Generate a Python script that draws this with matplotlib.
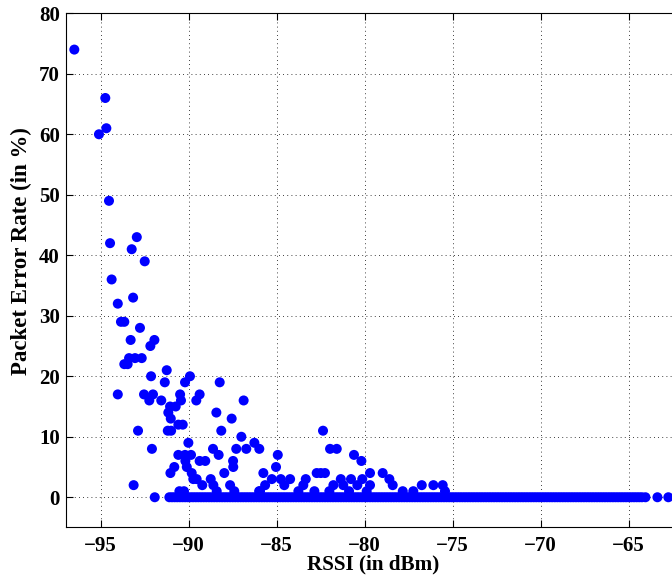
import numpy as np
import matplotlib.pyplot as plt

# RSSI (dBm) and packet error rate (%)
rssi_hi = [-96.50, -94.74, -94.68, -95.10, -94.53, -94.47, -92.95, -93.24, -92.50, -94.38,
           -93.16, -94.03, -93.85, -93.66, -92.77, -93.30, -91.95, -92.18, -93.66, -93.47,
           -93.39, -93.05, -92.67, -91.25, -92.14, -89.93, -91.36, -90.21, -88.24]
per_hi = [74, 66, 61, 60, 49, 42, 43, 41, 39, 36,
          33, 32, 29, 29, 28, 26, 26, 25, 22, 22,
          23, 23, 23, 21, 20, 20, 19, 19, 19]

rssi_mid = [-94.03, -92.54, -92.03, -90.49, -89.38, -92.24, -91.56, -90.44, -89.57, -86.88,
            -91.06, -90.74, -91.16, -88.43, -91.02, -87.56, -90.59, -90.34, -91.19, -91.00,
            -92.88, -88.15, -82.37, -87.01, -86.27, -90.02, -92.09, -88.62, -87.30, -86.73,
            -85.99, -81.97, -81.59, -88.30, -90.59, -90.21, -89.87, -84.94, -80.61, -89.38,
            -89.06, -87.48, -90.19, -80.19, -90.82, -87.47, -90.11, -85.04]
per_mid = [17, 17, 17, 17, 17, 16, 16, 16, 16, 16,
           15, 15, 14, 14, 13, 13, 12, 12, 11, 11,
           11, 11, 11, 10, 9, 9, 8, 8, 8, 8,
           8, 8, 8, 7, 7, 7, 7, 7, 7, 6,
           6, 6, 6, 6, 5, 5, 5, 5]

rssi_lo = [-91.04, -87.98, -89.83, -85.76, -82.73, -82.50, -82.26, -79.70, -78.98,
           -89.74, -89.55, -88.75, -85.28, -84.77, -84.24, -83.35, -81.36, -80.78, -80.14, -78.60,
           -93.13, -89.23, -88.60, -87.65, -85.66, -84.57, -83.49, -81.78, -81.22, -80.42,
           -79.70, -78.41, -76.76, -76.10, -75.57,
           -90.53, -90.27, -88.41, -87.41, -86.00, -85.95, -83.77, -82.86, -82.01, -80.89,
           -79.89, -77.84, -77.24, -75.44, -91.93]
per_lo = [4, 4, 4, 4, 4, 4, 4, 4, 4,
          3, 3, 3, 3, 3, 3, 3, 3, 3, 3, 3,
          2, 2, 2, 2, 2, 2, 2, 2, 2, 2,
          2, 2, 2, 2, 2,
          1, 1, 1, 1, 1, 1, 1, 1, 1, 1,
          1, 1, 1, 1, 0]

# links with no packet loss
rssi_zero = [-91.10, -90.95, -90.80, -90.65, -90.50, -90.35, -90.20, -90.05, -89.90, -89.75,
             -89.60, -89.45, -89.30, -89.15, -89.00, -88.85, -88.70, -88.55, -88.40, -88.25,
             -88.10, -87.95, -87.80, -87.65, -87.50, -87.35, -87.20, -87.05, -86.90, -86.75,
             -86.60, -86.45, -86.30, -86.15, -86.00, -85.85, -85.70, -85.55, -85.40, -85.25,
             -85.10, -84.95, -84.80, -84.65, -84.50, -84.35, -84.20, -84.05, -83.90, -83.75,
             -83.60, -83.45, -83.30, -83.15, -83.00, -82.85, -82.70, -82.55, -82.40, -82.25,
             -82.10, -81.95, -81.80, -81.65, -81.50, -81.35, -81.20, -81.05, -80.90, -80.75,
             -80.60, -80.45, -80.30, -80.15, -80.00, -79.85, -79.70, -79.55, -79.40, -79.25,
             -79.10, -78.95, -78.80, -78.65, -78.50, -78.35, -78.20, -78.05, -77.90, -77.75,
             -77.60, -77.45, -77.30, -77.15, -77.00, -76.85, -76.70, -76.55, -76.40, -76.25,
             -76.10, -75.95, -75.80, -75.65, -75.50, -75.35, -75.20, -75.05, -74.90, -74.75,
             -74.60, -74.45, -74.30, -74.15, -74.00, -73.85, -73.70, -73.55, -73.40, -73.25,
             -73.10, -72.95, -72.80, -72.65, -72.50, -72.35, -72.20, -72.05, -71.90, -71.75,
             -71.60, -71.45, -71.30, -71.15, -71.00, -70.85, -70.70, -70.55, -70.40, -70.25,
             -70.10, -69.95, -69.80, -69.65, -69.50, -69.35, -69.20, -69.05, -68.90, -68.75,
             -68.60, -68.45, -68.30, -68.15, -68.00, -67.85, -67.70, -67.55, -67.40, -67.25,
             -67.10, -66.95, -66.80, -66.65, -66.50, -66.35, -66.20, -66.05, -65.90, -65.75,
             -65.60, -65.45, -65.30, -65.15, -65.00, -64.85, -64.70, -64.55, -64.40, -64.25,
             -64.05, -63.37, -62.75]

rssi = rssi_hi + rssi_mid + rssi_lo + rssi_zero
per = per_hi + per_mid + per_lo + [0] * len(rssi_zero)

plt.rcParams['font.family'] = ['Liberation Serif', 'DejaVu Serif']
plt.rcParams['font.weight'] = 'bold'

fig = plt.figure(figsize=(6.72, 5.83), dpi=100)
ax = fig.add_axes([0.0975, 0.0952, 0.9167, 0.882])

ax.scatter(rssi, per, s=52, color='#0000ff', edgecolors='none', zorder=3)

ax.set_xlim(-97, -62)
ax.set_ylim(-5, 80)
ax.set_xticks([-95, -90, -85, -80, -75, -70, -65])
ax.set_yticks(np.arange(0, 81, 10))
ax.grid(True, linestyle=(0, (1, 4)), color='black', linewidth=0.6)
ax.tick_params(direction='in', length=5, top=True, right=True, labelsize=15, width=0.8)
ax.tick_params(axis='x', pad=6)
ax.tick_params(axis='y', pad=4)
for lbl in ax.get_xticklabels() + ax.get_yticklabels():
    lbl.set_fontweight('bold')

ax.set_xlabel('RSSI (in dBm)', fontsize=15.2, fontweight='bold')
ax.set_ylabel('Packet Error Rate (in %)', fontsize=16.5, fontweight='bold')
ax.xaxis.set_label_coords(0.5, -0.052)
ax.yaxis.set_label_coords(-0.055, 0.537)

fig.savefig('out.png', dpi=100)
